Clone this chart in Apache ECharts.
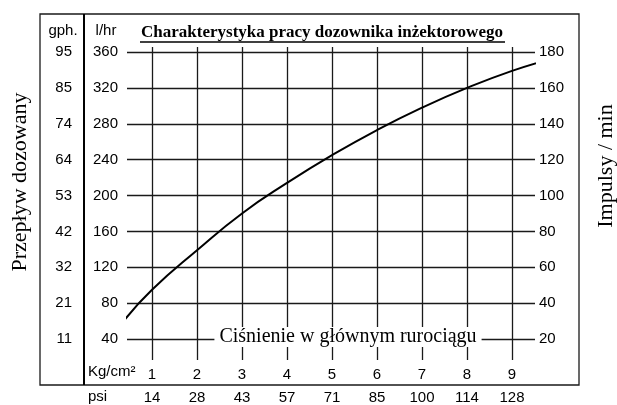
<!DOCTYPE html>
<html>
<head>
<meta charset="utf-8">
<script src="https://cdn.jsdelivr.net/npm/echarts@6/dist/echarts.min.js"></script>
<style>
html,body{margin:0;padding:0;background:#fff;}
#c{width:617px;height:405px;}
</style>
</head>
<body>
<div id="c"></div>
<script>
// ---- data ----
const kgTicks = [1, 2, 3, 4, 5, 6, 7, 8, 9];
const psiLabels = ['14', '28', '43', '57', '71', '85', '100', '114', '128'];
const lhrTicks = [40, 80, 120, 160, 200, 240, 280, 320, 360];
const gphLabels = ['11', '21', '32', '42', '53', '64', '74', '85', '95'];
const impTicks = [20, 40, 60, 80, 100, 120, 140, 160, 180];
const curveKg = [0.4, 1, 2, 3, 4, 5, 6, 7, 8, 9, 9.85];
const curveLhr = [62, 95, 139, 180, 214, 245, 273, 298, 320, 339, 352];

const titleText = 'Charakterystyka pracy dozownika inżektorowego';
const xTitle = 'Ciśnienie w głównym rurociągu';
const leftTitle = 'Przepływ dozowany';
const rightTitle = 'Impulsy / min';

// ---- layout ----
const Y_MIN = 16.6, Y_MAX = 365.6;
const X_MIN = 0.444, X_MAX = 9.511;
const numFont = 'Liberation Sans';
const lineCol = '#1a1a1a';

const chart = echarts.init(document.getElementById('c'), null, {renderer: 'canvas'});

const idx = (arr, v) => arr.indexOf(Math.round(v));

chart.setOption({
  animation: false,
  backgroundColor: '#fff',
  grid: {left: 127, right: 82, top: 47, bottom: 45},
  xAxis: [
    {
      type: 'value', position: 'bottom', min: X_MIN, max: X_MAX,
      axisLine: {show: false},
      axisTick: {show: false, customValues: kgTicks},
      axisLabel: {customValues: kgTicks, margin: 7, fontSize: 15, fontFamily: numFont, color: '#000',
        formatter: v => String(Math.round(v))},
      splitLine: {show: true, lineStyle: {color: lineCol, width: 1.3}}
    },
    {
      type: 'value', position: 'bottom', offset: 23, min: X_MIN, max: X_MAX,
      axisLine: {show: false},
      axisTick: {show: false, customValues: kgTicks},
      axisLabel: {customValues: kgTicks, margin: 7, fontSize: 15, fontFamily: numFont, color: '#000',
        formatter: v => psiLabels[idx(kgTicks, v)] || ''},
      splitLine: {show: false}
    }
  ],
  yAxis: [
    {
      type: 'value', position: 'left', min: Y_MIN, max: Y_MAX,
      axisLine: {show: false},
      axisTick: {show: false, customValues: lhrTicks},
      axisLabel: {customValues: lhrTicks, margin: 9, fontSize: 15, fontFamily: numFont, color: '#000',
        formatter: v => String(Math.round(v))},
      splitLine: {show: true, lineStyle: {color: lineCol, width: 1.3}}
    },
    {
      type: 'value', position: 'left', offset: 46, min: Y_MIN, max: Y_MAX,
      axisLine: {show: false},
      axisTick: {show: false, customValues: lhrTicks},
      axisLabel: {customValues: lhrTicks, margin: 9, fontSize: 15, fontFamily: numFont, color: '#000',
        formatter: v => gphLabels[idx(lhrTicks, v)] || ''},
      splitLine: {show: false}
    },
    {
      type: 'value', position: 'right', min: Y_MIN / 2, max: Y_MAX / 2,
      axisLine: {show: false},
      axisTick: {show: false, customValues: impTicks},
      axisLabel: {customValues: impTicks, margin: 4, fontSize: 15, fontFamily: numFont, color: '#000',
        formatter: v => String(Math.round(v))},
      splitLine: {show: false}
    }
  ],
  series: [{
    type: 'line',
    xAxisIndex: 0, yAxisIndex: 0,
    data: curveKg.map((k, i) => [k, curveLhr[i]]),
    smooth: 0.5,
    showSymbol: false,
    clip: false,
    lineStyle: {color: '#000', width: 2},
    z: 5
  }],
  graphic: [
    {type: 'rect', shape: {x: 40, y: 14, width: 539, height: 371}, style: {fill: 'none', stroke: '#000', lineWidth: 2}, z: 10},
    {type: 'line', shape: {x1: 84, y1: 14, x2: 84, y2: 385}, style: {stroke: '#000', lineWidth: 2}, z: 10},
    {type: 'text', x: 322, y: 33, style: {text: titleText, font: 'bold 17px "Liberation Serif"', fill: '#000', align: 'center', verticalAlign: 'middle'}, z: 10},
    {type: 'line', shape: {x1: 140, y1: 42, x2: 505, y2: 42}, style: {stroke: '#000', lineWidth: 1.5}, z: 10},
    {type: 'text', x: 63, y: 31, style: {text: 'gph.', font: '15px "Liberation Sans"', fill: '#000', align: 'center', verticalAlign: 'middle'}, z: 10},
    {type: 'text', x: 106, y: 31, style: {text: 'l/hr', font: '15px "Liberation Sans"', fill: '#000', align: 'center', verticalAlign: 'middle'}, z: 10},
    {type: 'text', x: 88, y: 372, style: {text: 'Kg/cm²', font: '15px "Liberation Sans"', fill: '#000', align: 'left', verticalAlign: 'middle'}, z: 10},
    {type: 'text', x: 88, y: 397, style: {text: 'psi', font: '15px "Liberation Sans"', fill: '#000', align: 'left', verticalAlign: 'middle'}, z: 10},
    {type: 'text', x: 348, y: 337, style: {text: xTitle, font: '20px "Liberation Serif"', fill: '#000', align: 'center', verticalAlign: 'middle',
      backgroundColor: '#fff', padding: [0, 5], lineHeight: 20}, z: 8},
    {type: 'text', x: 20, y: 182, rotation: Math.PI / 2, style: {text: leftTitle, font: '22px "Liberation Serif"', fill: '#000', align: 'center', verticalAlign: 'middle'}, z: 10},
    {type: 'text', x: 606, y: 166, rotation: Math.PI / 2, style: {text: rightTitle, font: '22px "Liberation Serif"', fill: '#000', align: 'center', verticalAlign: 'middle'}, z: 10}
  ]
});

// extension of the last vertical grid line above the grid (as in the original)
const topPt = chart.convertToPixel({xAxisIndex: 0, yAxisIndex: 0}, [kgTicks[kgTicks.length - 1], Y_MAX]);
chart.setOption({
  graphic: [{type: 'line', shape: {x1: topPt[0], y1: 30, x2: topPt[0], y2: topPt[1]}, style: {stroke: lineCol, lineWidth: 1.3}, z: 9}]
});
</script>
</body>
</html>
